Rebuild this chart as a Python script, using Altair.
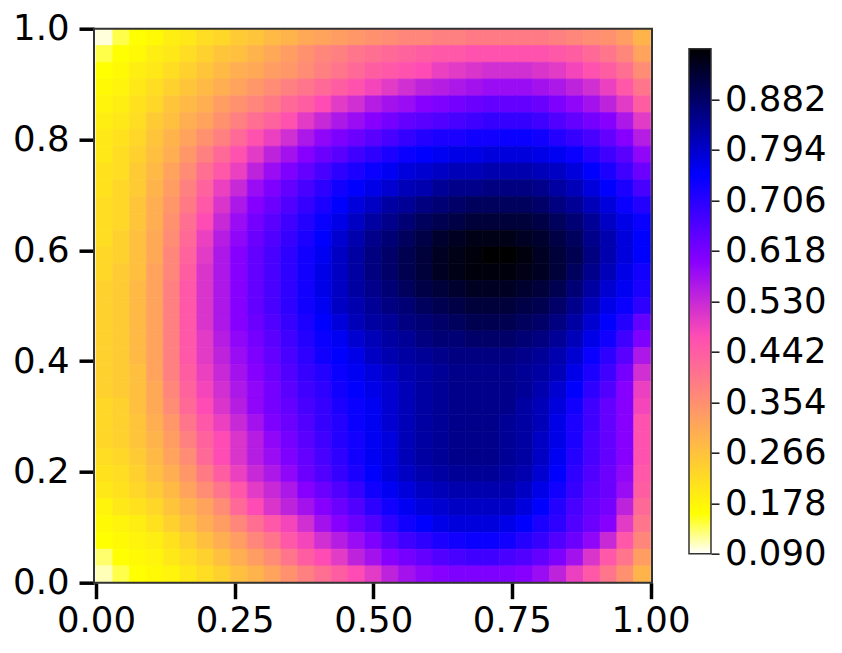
import altair as alt
import pandas as pd

r00 = [10,14,16,17,19,20,22,23,25,26,28,29,31,32,33,34,35,36,37,37,38,38,39,39,39,39,39,38,37,36,35,33,29]
r01 = [14,16,17,19,20,22,24,26,27,29,31,33,35,37,38,40,41,42,43,44,45,45,46,46,46,46,46,45,44,42,40,37,32]
r02 = [16,17,19,20,22,24,26,28,30,31,33,34,36,38,40,42,44,45,46,47,49,50,51,52,52,52,51,50,48,46,44,41,36]
r03 = [17,18,20,22,24,26,28,30,32,34,36,38,40,42,44,46,48,50,52,54,55,56,57,58,58,58,57,56,54,52,49,45,40]
r04 = [18,19,21,23,26,28,30,33,35,37,39,42,44,47,50,52,55,57,58,60,61,62,63,64,64,64,63,61,59,57,54,50,44]
r05 = [19,20,22,25,27,30,32,35,38,41,43,46,50,53,56,58,60,62,64,65,66,67,68,69,69,69,68,66,64,62,60,56,50]
r06 = [20,21,23,26,29,32,35,38,42,46,49,52,56,59,61,63,65,67,69,71,72,72,73,73,74,74,73,71,69,67,64,60,55]
r07 = [20,22,24,27,30,34,38,42,46,50,54,57,60,63,65,68,70,72,74,75,76,77,77,78,78,78,77,76,74,71,68,65,59]
r08 = [21,22,25,28,32,36,41,45,49,54,58,61,64,67,70,72,74,76,78,79,80,81,81,82,82,82,81,80,78,75,72,68,63]
r09 = [21,23,25,29,33,38,43,49,53,58,61,64,67,70,73,75,77,79,81,82,84,85,85,86,86,86,85,83,81,78,75,72,67]
r10 = [22,23,26,30,34,39,45,51,56,60,63,66,69,72,75,78,80,83,84,86,87,88,89,89,89,89,88,86,84,81,78,74,71]
r11 = [22,23,26,30,35,41,47,53,58,62,65,68,71,74,77,80,83,85,87,89,90,91,92,92,92,92,91,89,87,84,80,77,74]
r12 = [22,24,27,31,36,42,49,55,59,63,66,69,72,75,79,82,85,87,89,91,93,94,95,95,95,94,93,91,89,85,82,78,75]
r13 = [23,24,27,31,37,43,50,56,60,64,67,70,73,76,80,83,86,88,90,92,94,95,96,97,97,96,94,92,90,86,82,78,75]
r14 = [23,25,27,32,37,44,51,56,60,64,67,70,73,77,80,83,86,88,90,92,94,95,96,96,96,95,94,92,89,85,81,77,73]
r15 = [24,25,28,32,38,45,51,56,60,64,67,70,73,77,80,83,85,87,89,91,92,93,94,94,94,93,92,90,87,83,79,76,72]
r16 = [24,25,28,32,38,45,51,56,60,64,67,70,73,76,80,82,84,86,87,89,90,91,92,92,92,91,90,88,85,81,77,74,70]
r17 = [24,25,28,32,38,45,51,56,60,63,66,69,72,75,78,81,83,84,86,87,88,89,90,90,90,89,88,86,83,79,75,71,64]
r18 = [24,25,28,32,38,45,50,55,59,62,65,68,71,74,76,79,81,83,84,86,87,87,88,88,88,87,86,84,81,77,73,68,61]
r19 = [24,25,28,32,38,45,50,54,58,61,64,67,70,73,75,77,80,82,83,84,85,86,86,86,86,85,84,82,79,74,70,65,56]
r20 = [24,25,27,32,38,44,49,53,57,60,63,66,69,71,74,76,78,80,82,83,84,85,85,85,85,84,83,81,77,72,68,62,52]
r21 = [24,25,27,31,37,43,48,52,56,59,62,65,68,70,73,75,77,79,81,83,84,85,85,85,85,84,82,79,75,70,66,60,49]
r22 = [23,24,27,31,36,42,47,51,55,59,62,64,67,69,72,74,76,79,81,83,84,85,85,85,85,83,81,78,73,68,64,60,48]
r23 = [23,24,26,30,34,40,45,49,53,57,61,63,66,69,71,74,76,79,81,83,84,85,85,85,84,83,81,77,72,68,64,60,46]
r24 = [23,24,26,29,33,38,43,47,51,55,59,62,65,68,71,73,76,78,81,83,84,85,85,85,84,83,80,77,72,67,64,60,46]
r25 = [22,23,25,28,32,36,42,47,51,55,58,61,64,67,70,73,76,78,81,83,84,85,85,85,84,83,80,76,71,67,64,60,46]
r26 = [21,22,24,27,30,34,39,44,49,53,56,59,63,66,69,72,75,78,80,82,83,84,84,84,83,82,79,75,70,66,63,59,45]
r27 = [20,21,23,25,28,32,36,40,45,50,53,56,60,63,66,69,73,76,78,80,81,82,82,82,82,80,77,73,69,65,63,58,44]
r28 = [18,20,21,23,26,29,32,36,42,47,51,54,57,60,63,66,70,73,76,78,79,80,80,80,80,78,75,71,67,64,62,54,42]
r29 = [17,18,19,21,24,27,30,33,37,41,45,48,52,57,60,63,66,70,73,75,77,78,78,78,77,75,72,70,66,63,60,50,40]
r30 = [16,17,18,19,21,24,27,30,33,37,40,45,48,52,55,58,61,65,68,70,72,73,74,74,73,71,69,66,63,59,53,45,37]
r31 = [13,16,17,18,20,22,24,27,30,33,36,40,44,47,50,54,57,60,62,64,66,67,68,68,67,66,64,61,57,51,45,40,33]
r32 = [11,14,16,17,18,20,22,24,27,29,32,35,38,41,44,47,50,54,57,59,60,61,61,61,61,60,58,54,49,45,40,35,29]
rows = [r00,r01,r02,r03,r04,r05,r06,r07,r08,r09,r10,r11,r12,r13,r14,r15,r16,
        r17,r18,r19,r20,r21,r22,r23,r24,r25,r26,r27,r28,r29,r30,r31,r32]

color_stops = [0.09, 0.1604, 0.4684, 0.6004, 0.75, 0.97]
color_range = ["#ffffff", "#ffff00", "#ff4db3", "#8700ff", "#0000ff", "#000000"]
x_ticks = [0, 0.25, 0.5, 0.75, 1]
y_ticks = [0, 0.2, 0.4, 0.6, 0.8, 1]
bar_ticks = [0.09, 0.178, 0.266, 0.354, 0.442, 0.53, 0.618, 0.706, 0.794, 0.882]
FONT = "DejaVu Sans"
FS = 35.5
ROW_N, COL_N = len(rows), len(rows[0])

cells = []
for j, row in enumerate(rows):
    for i, p in enumerate(row):
        cells.append({"x0": i / COL_N, "x1": (i + 1) / COL_N,
                      "y0": 1 - j / ROW_N, "y1": 1 - (j + 1) / ROW_N, "v": p / 100})
df = pd.DataFrame(cells)

cscale = alt.Scale(domain=color_stops, range=color_range, clamp=True, interpolate="rgb")
W, H = 558, 554

heat = alt.Chart(df).mark_rect(strokeWidth=0.7).encode(
    x=alt.X("x0:Q", scale=alt.Scale(domain=[-0.0036, 1.0027], nice=False, zero=False),
            axis=alt.Axis(values=x_ticks, format=".2f", title=None, grid=False, domain=False,
                          tickSize=16, tickWidth=3.5, tickColor="#000000", labelFontSize=FS,
                          labelFont=FONT, labelColor="#000000", labelPadding=5, labelFlush=False,
                          labelOverlap=False)),
    x2="x1:Q",
    y=alt.Y("y0:Q", scale=alt.Scale(domain=[0, 1], nice=False, zero=False),
            axis=alt.Axis(values=y_ticks, format=".1f", title=None, grid=False, domain=False,
                          tickSize=15, tickWidth=3.5, tickColor="#000000", labelFontSize=FS,
                          labelFont=FONT, labelColor="#000000", labelPadding=10, labelOverlap=False)),
    y2="y1:Q",
    fill=alt.Fill("v:Q", scale=cscale, legend=None),
    stroke=alt.Stroke("v:Q", scale=cscale, legend=None),
)
frame = alt.Chart(pd.DataFrame({"k": [0]})).mark_rect(
    fill=None, stroke="#333333", strokeWidth=2
).encode(x=alt.value(0), x2=alt.value(W), y=alt.value(0), y2=alt.value(H))
left = alt.layer(heat, frame).properties(width=W, height=H)

offsets = [(v - color_stops[0]) / (color_stops[-1] - color_stops[0]) for v in color_stops]
grad = alt.LinearGradient(
    gradient="linear", x1=0, x2=0, y1=1, y2=0,
    stops=[alt.GradientStop(color=c, offset=o) for c, o in zip(color_range, offsets)],
)
bar = alt.Chart(pd.DataFrame({"lo": [color_stops[0]], "hi": [color_stops[-1]]})).mark_rect(
    fill=grad, stroke="#333333", strokeWidth=1.5
).encode(
    x=alt.value(0), x2=alt.value(22),
    y=alt.Y("lo:Q", scale=alt.Scale(domain=[0.0395, 1.005], nice=False, zero=False),
            axis=alt.Axis(orient="right", values=bar_ticks, format=".3f", title=None, grid=False,
                          domain=False, tickSize=8, tickWidth=1.6, tickColor="#222222",
                          labelFontSize=FS, labelFont=FONT, labelColor="#000000", labelPadding=5.5,
                          labelOverlap=False)),
    y2="hi:Q",
).properties(width=22, height=H)

chart = alt.hconcat(left, bar, spacing=37, bounds="flush").configure_view(stroke=None).properties(
    padding={"left": 4, "top": 3.7, "right": 0, "bottom": 0}, background="#ffffff"
)
chart.save("out.html", embed_options={"renderer": "svg", "actions": False})
